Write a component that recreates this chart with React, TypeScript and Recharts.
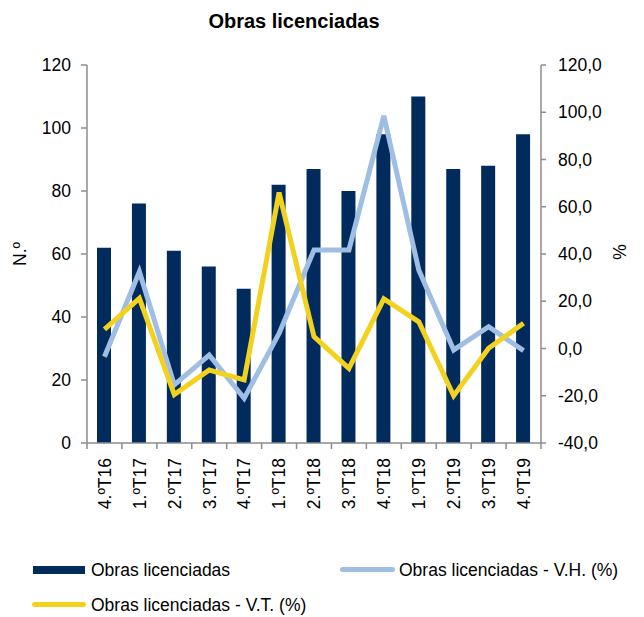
import React from 'react';
import { ComposedChart, Bar, Line, XAxis, YAxis } from 'recharts';

const categories = ['4.ºT16', '1.ºT17', '2.ºT17', '3.ºT17', '4.ºT17', '1.ºT18', '2.ºT18', '3.ºT18', '4.ºT18', '1.ºT19', '2.ºT19', '3.ºT19', '4.ºT19'];
const obras = [62, 76, 61, 56, 49, 82, 87, 80, 98, 110, 87, 88, 98];
const vh = [-3.5, 32.5, -15.4, -2.8, -21.1, 6.4, 41.7, 41.7, 98.5, 33.2, -0.6, 9.2, -0.9];
const vt = [8.1, 21.2, -19.5, -9.1, -13.3, 66, 5.0, -8.4, 21.0, 11.3, -20, 0.1, 10.7];
const leftTicks = [0, 20, 40, 60, 80, 100, 120];
const rightTicks = [-40, -20, 0, 20, 40, 60, 80, 100, 120];

const data = categories.map((c, i) => ({ cat: c, obras: obras[i], vh: vh[i], vt: vt[i] }));

const W = 644;
const H = 617;
const LEFT_W = 87;
const RIGHT_W = 103;
const PLOT_W = W - LEFT_W - RIGHT_W;
const BAND = PLOT_W / categories.length;

const FONT = '"Liberation Sans", Arial, sans-serif';
const AXIS = '#8c8c8c';
const NAVY = '#002b5c';
const LIGHT = '#9fbee3';
const YELLOW = '#f2d21e';

const XTick = (props: any) => {
  const { x, y, payload, index } = props;
  return (
    <g>
      <line x1={x - BAND / 2} x2={x - BAND / 2} y1={y} y2={y + 6} stroke={AXIS} strokeWidth={1.5} />
      {index === categories.length - 1 && (
        <line x1={x + BAND / 2} x2={x + BAND / 2} y1={y} y2={y + 6} stroke={AXIS} strokeWidth={1.5} />
      )}
      <text
        transform={`translate(${x},${y + 15}) rotate(-90)`}
        textAnchor="end"
        dy="0.36em"
        fontSize={17.5}
        fontFamily={FONT}
        fill="#000"
      >
        {payload.value}
      </text>
    </g>
  );
};

export default function App() {
  const fmt = (v: number) => v.toFixed(1).replace('.', ',');
  return (
    <div style={{ position: 'absolute', left: 0, top: 0, width: W, height: H, background: '#fff', fontFamily: FONT }}>
      <ComposedChart
        width={W}
        height={H}
        data={data}
        margin={{ top: 65, right: 0, left: 0, bottom: 94 }}
      >
        <XAxis
          dataKey="cat"
          height={80}
          interval={0}
          tickLine={false}
          tickSize={0}
          tickMargin={0}
          tick={<XTick />}
          axisLine={{ stroke: AXIS, strokeWidth: 1.5 }}
        />
        <YAxis
          yAxisId="left"
          width={LEFT_W}
          domain={[0, 120]}
          ticks={leftTicks}
          interval={0}
          tickSize={6}
          tickMargin={10}
          axisLine={{ stroke: AXIS, strokeWidth: 1.5 }}
          tickLine={{ stroke: AXIS, strokeWidth: 1.5 }}
          tick={{ fill: '#000', fontSize: 17.5, fontFamily: FONT }}
        />
        <YAxis
          yAxisId="right"
          orientation="right"
          width={RIGHT_W}
          domain={[-40, 120]}
          ticks={rightTicks}
          interval={0}
          tickSize={5}
          tickMargin={12}
          tickFormatter={fmt}
          axisLine={{ stroke: AXIS, strokeWidth: 1.5 }}
          tickLine={{ stroke: AXIS, strokeWidth: 1.5 }}
          tick={{ fill: '#000', fontSize: 17.5, fontFamily: FONT, textAnchor: 'start' }}
        />
        <Bar yAxisId="left" dataKey="obras" fill={NAVY} barSize={14} isAnimationActive={false} />
        <Line yAxisId="right" dataKey="vh" stroke={LIGHT} strokeWidth={5} dot={false} activeDot={false} isAnimationActive={false} />
        <Line yAxisId="right" dataKey="vt" stroke={YELLOW} strokeWidth={5} dot={false} activeDot={false} isAnimationActive={false} />
      </ComposedChart>

      <div style={{ position: 'absolute', left: 0, top: 10, width: 588, textAlign: 'center', fontWeight: 'bold', fontSize: 20, lineHeight: '22px', color: '#000' }}>
        Obras licenciadas
      </div>
      <div style={{ position: 'absolute', left: 20, top: 254, transform: 'translate(-50%,-50%) rotate(-90deg)', fontSize: 17.5, lineHeight: '20px', whiteSpace: 'nowrap', color: '#000' }}>
        N.º
      </div>
      <div style={{ position: 'absolute', left: 620, top: 252, transform: 'translate(-50%,-50%) rotate(-90deg)', fontSize: 17.5, lineHeight: '20px', whiteSpace: 'nowrap', color: '#000' }}>
        %
      </div>

      <div style={{ position: 'absolute', left: 33, top: 566, width: 52, height: 8, background: NAVY }} />
      <div style={{ position: 'absolute', left: 91, top: 559, fontSize: 17.5, lineHeight: '22px', whiteSpace: 'nowrap', color: '#000' }}>
        Obras licenciadas
      </div>
      <div style={{ position: 'absolute', left: 340, top: 567, width: 55, height: 5, borderRadius: 3, background: LIGHT }} />
      <div style={{ position: 'absolute', left: 399, top: 559, fontSize: 17.5, lineHeight: '22px', whiteSpace: 'nowrap', color: '#000' }}>
        Obras licenciadas - V.H. (%)
      </div>
      <div style={{ position: 'absolute', left: 32, top: 602, width: 54, height: 5, borderRadius: 3, background: YELLOW }} />
      <div style={{ position: 'absolute', left: 91, top: 594, fontSize: 17.5, lineHeight: '22px', whiteSpace: 'nowrap', color: '#000' }}>
        Obras licenciadas - V.T. (%)
      </div>
    </div>
  );
}
